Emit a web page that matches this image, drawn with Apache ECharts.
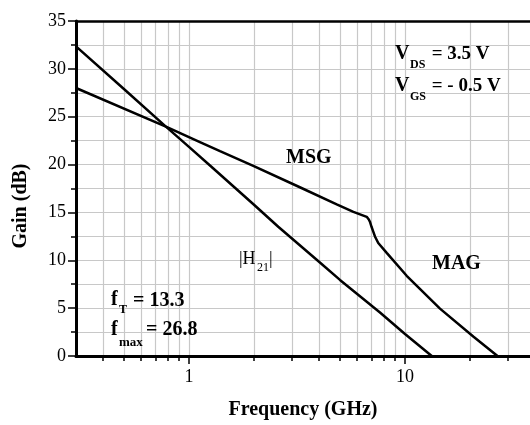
<!DOCTYPE html>
<html>
<head>
<meta charset="utf-8">
<script src="https://cdn.jsdelivr.net/npm/echarts@6/dist/echarts.min.js"></script>
<style>
  html, body { margin: 0; padding: 0; background: #fff; }
  #chart { width: 530px; height: 425px; }
</style>
</head>
<body>
<div id="chart"></div>
<script>
// Current gain |H21| versus frequency (GHz, dB)
const freqH21 = [0.3, 0.5, 0.782, 1, 1.274, 2, 2.59, 4, 5, 7.66, 10, 13.3];
const gainH21 = [32.35, 27.9, 23.97, 21.85, 19.75, 15.8, 13.5, 9.85, 7.95, 4.55, 2.3, 0];

// MSG / MAG curve (GHz, dB)
const freqMSG = [0.3, 0.782, 1.124, 1.392, 1.985, 3.26, 4.83, 5.77, 6.65, 6.8, 6.88, 7.0, 7.13, 7.26, 7.52, 8.23, 10.18, 14.52, 20.7, 26.8];
const gainMSG = [28.0, 23.97, 22.35, 21.4, 19.86, 17.63, 15.85, 15.06, 14.54, 14.27, 14.03, 13.5, 13.0, 12.49, 11.8, 10.77, 8.38, 4.95, 2.04, 0];

// Frequency axis: decade grid and labels
const gridFreqs = [0.4, 0.5, 0.6, 0.7, 0.8, 0.9, 1, 2, 3, 4, 5, 6, 7, 8, 9, 10, 20, 30];
const decadeLabels = [1, 10];
const freqMin = 0.3, freqMax = 37.9;

// Gain axis
const gainMin = 0, gainMax = 35, gainStep = 5;

const lg = Math.log10;
const serif = 'Liberation Serif';
const pairs = (fs, gs) => fs.map((f, i) => [lg(f), gs[i]]);

const chart = echarts.init(document.getElementById('chart'));

function txt(x, y, text, size, bold, align) {
  return {
    type: 'text', x: x, y: y, silent: true, z: 10,
    style: {
      text: text, fill: '#000',
      fontFamily: serif, fontSize: size, fontWeight: bold ? 'bold' : 'normal',
      textAlign: align || 'left', textVerticalAlign: 'middle',
      align: align || 'left', verticalAlign: 'middle'
    }
  };
}

const option = {
  animation: false,
  backgroundColor: '#fff',
  grid: { left: 76, right: 0, top: 21, bottom: 63.5 },
  xAxis: [
    {
      type: 'value', min: lg(freqMin), max: lg(freqMax),
      axisLine: { show: true, onZero: false, lineStyle: { color: '#000', width: 3 } },
      axisTick: { show: true, customValues: gridFreqs.map(lg), length: 5, lineStyle: { color: '#000', width: 1.5 } },
      axisLabel: {
        customValues: decadeLabels.map(lg),
        formatter: v => String(Math.round(Math.pow(10, v))),
        color: '#000', fontFamily: serif, fontSize: 18, margin: 12
      },
      splitLine: { show: true, lineStyle: { color: '#c8c8c8', width: 1.2 } },
      name: 'Frequency (GHz)', nameLocation: 'middle', nameGap: 44,
      nameTextStyle: { color: '#000', fontFamily: serif, fontSize: 20, fontWeight: 'bold' }
    },
    {
      // longer ticks at the decades
      type: 'value', position: 'bottom', min: lg(freqMin), max: lg(freqMax),
      axisLine: { show: false, onZero: false },
      axisTick: { show: true, customValues: decadeLabels.map(lg), length: 8, lineStyle: { color: '#000', width: 1.5 } },
      axisLabel: { show: false },
      splitLine: { show: false }
    },
    {
      // frame line on top
      type: 'value', position: 'top', min: lg(freqMin), max: lg(freqMax),
      axisLine: { show: true, onZero: false, lineStyle: { color: '#000', width: 2.5 } },
      axisTick: { show: false }, axisLabel: { show: false }, splitLine: { show: false }
    }
  ],
  yAxis: {
    type: 'value', min: gainMin, max: gainMax, interval: gainStep,
    axisLine: { show: true, onZero: false, lineStyle: { color: '#000', width: 3 } },
    axisTick: { show: true, length: 8, lineStyle: { color: '#000', width: 1.5 } },
    minorTick: { show: true, splitNumber: 2, length: 5, lineStyle: { color: '#000', width: 1.5 } },
    axisLabel: { color: '#000', fontFamily: serif, fontSize: 18, margin: 10 },
    splitLine: { show: true, lineStyle: { color: '#c8c8c8', width: 1.2 } },
    minorSplitLine: { show: true, lineStyle: { color: '#c8c8c8', width: 1.2 } }
  },
  series: [
    {
      name: '|H21|', type: 'line', xAxisIndex: 0, data: pairs(freqH21, gainH21),
      showSymbol: false, lineStyle: { color: '#000', width: 2.5 }, z: 5
    },
    {
      name: 'MSG/MAG', type: 'line', xAxisIndex: 0, data: pairs(freqMSG, gainMSG),
      showSymbol: false, lineStyle: { color: '#000', width: 2.5 }, z: 5
    }
  ],
  graphic: [
    { ...txt(21, 206, 'Gain (dB)', 20, true, 'center'), rotation: Math.PI / 2 },
    txt(286, 158, 'MSG', 20, true),
    txt(432, 264, 'MAG', 20, true),
    txt(239, 259, '|H', 18, false),
    txt(257, 268, '21', 12, false),
    txt(269, 259, '|', 18, false),
    txt(111, 300, 'f', 20, true),
    txt(119, 310, 'T', 12, true),
    txt(128, 301, ' = 13.3', 20, true),
    txt(111, 330, 'f', 20, true),
    txt(119, 343, 'max', 13, true),
    txt(141, 330, ' = 26.8', 20, true),
    txt(395, 54, 'V', 20, true),
    txt(410, 64.5, 'DS', 12, true),
    txt(427, 54, ' = 3.5 V', 19, true),
    txt(395, 86, 'V', 20, true),
    txt(410, 97, 'GS', 12, true),
    txt(427, 86, ' = - 0.5 V', 19, true)
  ]
};

chart.setOption(option);
</script>
</body>
</html>
